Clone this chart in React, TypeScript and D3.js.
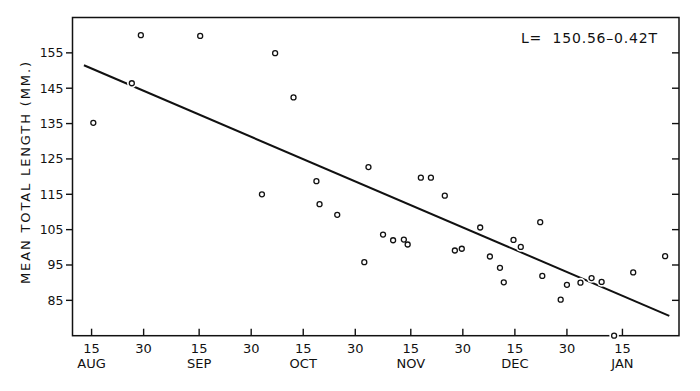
import React from "react";
import * as d3 from "d3";

// ---- data ----
const baseDate = "1950-08-15"; // T = 0
const sampleT = [0.5, 11.6, 14.2, 31.3, 52.9, 58.2, 64.8, 49.1, 65.7, 70.8, 79.8, 94.9, 97.8, 101.8, 78.6, 84, 86.9, 90, 91.1, 104.7, 106.7, 112, 114.8, 117.7, 118.8, 121.6, 123.7, 129.3, 129.9, 135.2, 137, 140.9, 144.1, 147, 150.6, 156.1, 165.3];
const meanLength = [135.2, 146.4, 160.0, 159.8, 154.9, 142.4, 118.7, 115.0, 112.2, 109.2, 122.7, 119.7, 119.7, 114.6, 95.8, 103.6, 102.0, 102.2, 100.8, 99.1, 99.6, 105.6, 97.4, 94.2, 90.1, 102.1, 100.1, 107.1, 91.9, 85.2, 89.4, 90.0, 91.3, 90.2, 75.0, 92.9, 97.5];
const intercept = 150.56;
const slope = -0.42;
const fitRange = [-2.2, 166.5];
const yTicks = [85, 95, 105, 115, 125, 135, 145, 155];
const xTickDates = ["1950-08-15", "1950-08-30", "1950-09-15", "1950-09-30", "1950-10-15", "1950-10-30", "1950-11-15", "1950-11-30", "1950-12-15", "1950-12-30", "1951-01-15"];
const xTickDays = ["15", "30", "15", "30", "15", "30", "15", "30", "15", "30", "15"];
const xTickMonths = ["AUG", "", "SEP", "", "OCT", "", "NOV", "", "DEC", "", "JAN"];
const equation = "L=  150.56–0.42T";
const yLabel = "MEAN TOTAL LENGTH (MM.)";

const W = 700, H = 391;
const left = 72.5, right = 679, top = 17.5, bottom = 335.7;
const DAY = 864e5;
const parse = (s: string) => { const [y, m, d] = s.split("-").map(Number); return new Date(y, m - 1, d); };
const t0 = parse(baseDate).getTime();
const tDate = (t: number) => new Date(t0 + t * DAY);

export default function App() {
  const x = d3.scaleTime().domain([tDate(-5.5), tDate(169.3)]).range([left, right]);
  const y = d3.scaleLinear().domain([75, 165]).range([bottom, top]);
  const fit = d3.line<number>().x(t => x(tDate(t))).y(t => y(intercept + slope * t));
  const font = "'DejaVu Sans', sans-serif";
  const pts = sampleT.map((t, i) => ({ t, v: meanLength[i] }));
  return (
    <svg width={W} height={H} style={{ position: "absolute", left: 0, top: 0, background: "#fff" }} fontFamily={font}>
      <rect x={0} y={0} width={W} height={H} fill="#fff" />
      {/* frame */}
      <rect x={left} y={top} width={right - left} height={bottom - top} fill="none" stroke="#111" strokeWidth={1.5} />
      {/* y ticks */}
      {yTicks.map(v => (
        <g key={v}>
          <line x1={left - 6.5} x2={left} y1={y(v)} y2={y(v)} stroke="#111" strokeWidth={1.4} />
          <line x1={right - 7} x2={right} y1={y(v)} y2={y(v)} stroke="#111" strokeWidth={1.4} />
          <text x={left - 9} y={y(v)} dy="0.36em" textAnchor="end" fontSize={12.5} fill="#111">{v}</text>
        </g>
      ))}
      {/* x ticks */}
      {xTickDates.map((s, i) => {
        const xx = x(parse(s));
        return (
          <g key={s}>
            <line x1={xx} x2={xx} y1={bottom} y2={bottom - 7} stroke="#111" strokeWidth={1.4} />
            <text x={xx} y={353.3} textAnchor="middle" fontSize={13} fill="#111">{xTickDays[i]}</text>
            {xTickMonths[i] && <text x={xx} y={367.5} textAnchor="middle" fontSize={13} fill="#111">{xTickMonths[i]}</text>}
          </g>
        );
      })}
      {/* y label */}
      <text transform={`translate(30,173) rotate(-90)`} textAnchor="middle" fontSize={13} fill="#111" textLength={222} lengthAdjust="spacing">{yLabel}</text>
      {/* regression line */}
      <path d={fit(fitRange) || ""} fill="none" stroke="#111" strokeWidth={2} />
      {/* points */}
      {pts.map((p, i) => (
        <circle key={"h" + i} cx={x(tDate(p.t))} cy={y(p.v)} r={4.8} fill="#fff" />
      ))}
      {pts.map((p, i) => (
        <circle key={"p" + i} cx={x(tDate(p.t))} cy={y(p.v)} r={2.5} fill="#fff" stroke="#111" strokeWidth={1.3} />
      ))}
      {/* equation */}
      <text x={521} y={43.3} fontSize={14} fill="#111" textLength={136} lengthAdjust="spacing" style={{ whiteSpace: "pre" }}>{equation}</text>
    </svg>
  );
}
